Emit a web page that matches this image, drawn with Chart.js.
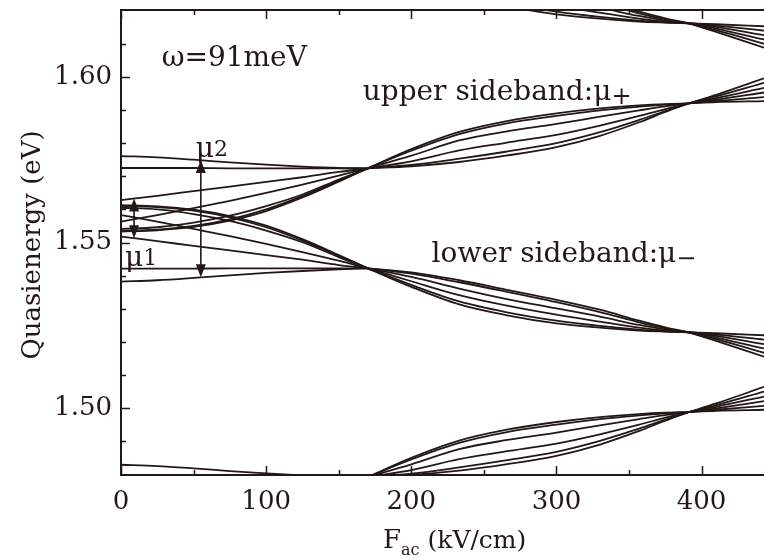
<!DOCTYPE html>
<html>
<head>
<meta charset="utf-8">
<script src="https://cdn.jsdelivr.net/npm/chart.js@4.4.0/dist/chart.umd.min.js"></script>
<style>
  html, body { margin: 0; padding: 0; background: #fff; }
  #chartContainer { width: 764px; height: 559px; position: relative; }
</style>
</head>
<body>
<div id="chartContainer"><canvas id="myChart"></canvas></div>
<script>
// field strength samples (kV/cm) for each stretch between the crossing points
const F_LEFT = [0, 25, 50, 75, 100, 125, 150, 170];
const F_LENS = [170, 200, 233, 265, 300, 330, 357, 375, 391];
const F_RIGHT = [391, 410, 443];

// quasienergies (eV)
const LEFT_UPPER = [
  [1.5761, 1.5757, 1.5750, 1.5742, 1.5735, 1.5729, 1.5725, 1.5724],
  [1.5725, 1.5725, 1.5725, 1.5724, 1.5724, 1.5724, 1.5724, 1.5724],
  [1.5628, 1.5641, 1.5655, 1.5669, 1.5683, 1.5697, 1.5713, 1.5724],
  [1.5563, 1.5583, 1.5604, 1.5626, 1.5650, 1.5675, 1.5702, 1.5724],
  [1.5541, 1.5546, 1.5560, 1.5581, 1.5610, 1.5645, 1.5690, 1.5724],
  [1.5535, 1.5539, 1.5550, 1.5570, 1.5600, 1.5640, 1.5686, 1.5724],
  [1.5533, 1.5537, 1.5547, 1.5566, 1.5595, 1.5636, 1.5684, 1.5724]
];
const LEFT_LOWER = [
  [1.5382, 1.5386, 1.5393, 1.5401, 1.5408, 1.5414, 1.5419, 1.5422],
  [1.5421, 1.5421, 1.5421, 1.5422, 1.5422, 1.5422, 1.5422, 1.5422],
  [1.5518, 1.5504, 1.5490, 1.5476, 1.5462, 1.5448, 1.5432, 1.5422],
  [1.5583, 1.5563, 1.5541, 1.5519, 1.5496, 1.5471, 1.5445, 1.5422],
  [1.5605, 1.5600, 1.5586, 1.5565, 1.5536, 1.5501, 1.5456, 1.5422],
  [1.5611, 1.5607, 1.5596, 1.5576, 1.5546, 1.5506, 1.5460, 1.5422],
  [1.5613, 1.5609, 1.5599, 1.5580, 1.5551, 1.5510, 1.5462, 1.5422]
];
const LEFT_BOTTOM = [
  [1.4829, 1.4825, 1.4818, 1.4810, 1.4803, 1.4797, 1.4793, 1.4792]
];

const LENS_UPPER = [
  [1.5724, 1.5782, 1.5834, 1.5866, 1.5890, 1.5905, 1.5914, 1.5918, 1.5920],
  [1.5724, 1.5777, 1.5827, 1.5859, 1.5882, 1.5899, 1.5910, 1.5916, 1.5920],
  [1.5724, 1.5762, 1.5808, 1.5835, 1.5858, 1.5880, 1.5899, 1.5911, 1.5920],
  [1.5724, 1.5745, 1.5778, 1.5801, 1.5825, 1.5853, 1.5882, 1.5903, 1.5920],
  [1.5724, 1.5734, 1.5753, 1.5774, 1.5800, 1.5833, 1.5870, 1.5897, 1.5920],
  [1.5724, 1.5730, 1.5743, 1.5762, 1.5788, 1.5822, 1.5863, 1.5894, 1.5920]
];
const LENS_LOWER = [
  [1.5422, 1.5410, 1.5386, 1.5358, 1.5327, 1.5297, 1.5264, 1.5244, 1.5229],
  [1.5422, 1.5406, 1.5380, 1.5352, 1.5320, 1.5290, 1.5259, 1.5241, 1.5229],
  [1.5422, 1.5396, 1.5361, 1.5330, 1.5301, 1.5276, 1.5251, 1.5237, 1.5229],
  [1.5422, 1.5383, 1.5341, 1.5310, 1.5282, 1.5261, 1.5243, 1.5234, 1.5229],
  [1.5422, 1.5372, 1.5322, 1.5290, 1.5264, 1.5248, 1.5237, 1.5232, 1.5229],
  [1.5422, 1.5366, 1.5313, 1.5281, 1.5256, 1.5243, 1.5234, 1.5231, 1.5229]
];
const LENS_TOP = [
  [1.6355, 1.6343, 1.6319, 1.6291, 1.6260, 1.6230, 1.6197, 1.6177, 1.6162],
  [1.6355, 1.6339, 1.6313, 1.6285, 1.6253, 1.6223, 1.6192, 1.6174, 1.6162],
  [1.6355, 1.6329, 1.6294, 1.6263, 1.6234, 1.6209, 1.6184, 1.6170, 1.6162],
  [1.6355, 1.6316, 1.6274, 1.6243, 1.6215, 1.6194, 1.6176, 1.6167, 1.6162],
  [1.6355, 1.6305, 1.6255, 1.6223, 1.6197, 1.6181, 1.6170, 1.6165, 1.6162],
  [1.6355, 1.6299, 1.6246, 1.6214, 1.6189, 1.6176, 1.6167, 1.6164, 1.6162]
];
const LENS_BOTTOM = [
  [1.4792, 1.4850, 1.4902, 1.4934, 1.4958, 1.4973, 1.4982, 1.4986, 1.4988],
  [1.4792, 1.4845, 1.4895, 1.4927, 1.4950, 1.4967, 1.4978, 1.4984, 1.4988],
  [1.4792, 1.4830, 1.4876, 1.4903, 1.4926, 1.4948, 1.4967, 1.4979, 1.4988],
  [1.4792, 1.4813, 1.4846, 1.4869, 1.4893, 1.4921, 1.4950, 1.4971, 1.4988],
  [1.4792, 1.4802, 1.4821, 1.4842, 1.4868, 1.4901, 1.4938, 1.4965, 1.4988],
  [1.4792, 1.4798, 1.4811, 1.4830, 1.4856, 1.4890, 1.4931, 1.4962, 1.4988]
];

const RIGHT_UPPER = [
  [1.5920, 1.5946, 1.5996],
  [1.5920, 1.5941, 1.5982],
  [1.5920, 1.5936, 1.5967],
  [1.5920, 1.5931, 1.5953],
  [1.5920, 1.5927, 1.5939],
  [1.5920, 1.5924, 1.5927]
];
const RIGHT_LOWER = [
  [1.5229, 1.5226, 1.5220],
  [1.5229, 1.5222, 1.5207],
  [1.5229, 1.5218, 1.5193],
  [1.5229, 1.5213, 1.5180],
  [1.5229, 1.5208, 1.5167],
  [1.5229, 1.5203, 1.5155]
];
const RIGHT_TOP = [
  [1.6162, 1.6159, 1.6153],
  [1.6162, 1.6155, 1.6140],
  [1.6162, 1.6151, 1.6126],
  [1.6162, 1.6146, 1.6113],
  [1.6162, 1.6141, 1.6100],
  [1.6162, 1.6136, 1.6088]
];
const RIGHT_BOTTOM = [
  [1.4988, 1.5014, 1.5064],
  [1.4988, 1.5009, 1.5050],
  [1.4988, 1.5004, 1.5035],
  [1.4988, 1.4999, 1.5021],
  [1.4988, 1.4995, 1.5007],
  [1.4988, 1.4992, 1.4995]
];

const X_TICKS = [0, 100, 200, 300, 400];
const Y_TICKS = [1.50, 1.55, 1.60];

const INK = '#231815';
const SERIF = '"DejaVu Serif", serif';

let myChart = null;

function segment(xs, ys) {
  return {
    data: xs.map((x, i) => ({ x: x, y: ys[i] })),
    showLine: true,
    borderColor: INK,
    borderWidth: 1.8,
    pointRadius: 0,
    pointHoverRadius: 0,
    fill: false,
    cubicInterpolationMode: 'monotone'
  };
}

function buildDatasets() {
  const groups = [
    [F_LEFT, LEFT_UPPER], [F_LEFT, LEFT_LOWER], [F_LEFT, LEFT_BOTTOM],
    [F_LENS, LENS_UPPER], [F_LENS, LENS_LOWER], [F_LENS, LENS_TOP], [F_LENS, LENS_BOTTOM],
    [F_RIGHT, RIGHT_UPPER], [F_RIGHT, RIGHT_LOWER], [F_RIGHT, RIGHT_TOP], [F_RIGHT, RIGHT_BOTTOM]
  ];
  let datasets = [];
  groups.forEach(([xs, lines]) => {
    lines.forEach(ys => datasets.push(segment(xs, ys)));
  });
  return datasets;
}

// labels in the plot, placed in data coordinates
const NOTES = [
  { x: 28, y: 1.6033, parts: [['ω=91meV', 28, 0]] },
  { x: 166.5, y: 1.5931, parts: [['upper sideband:', 28, 0], ['μ', 28, 0], ['+', 24, 4]] },
  { x: 214, y: 1.5441, parts: [['lower sideband:', 28, 0], ['μ', 28, 0], ['−', 24, 4]] },
  { x: 51.5, y: 1.5758, parts: [['μ', 28, 0], ['2', 22, -1]] },
  { x: 2.8, y: 1.5429, parts: [['μ', 28, 0], ['1', 22, -1]] }
];
const ARROWS = [
  { x: 9, from: 1.5633, to: 1.5513 },
  { x: 55, from: 1.5749, to: 1.5395 }
];

function drawParts(ctx, px, py, parts) {
  let cx = px;
  parts.forEach(([text, size, dy]) => {
    ctx.font = size + 'px ' + SERIF;
    ctx.fillText(text, cx, py + dy);
    cx += ctx.measureText(text).width;
  });
}

function drawArrowHead(ctx, x, y, dir) {
  ctx.beginPath();
  ctx.moveTo(x, y);
  ctx.lineTo(x - 5, y + dir * 13);
  ctx.lineTo(x + 5, y + dir * 13);
  ctx.closePath();
  ctx.fill();
}

const decorPlugin = {
  id: 'decor',
  afterDraw(chart) {
    const ctx = chart.ctx;
    const xs = chart.scales.x;
    const ys = chart.scales.y;
    const area = chart.chartArea;
    ctx.save();
    ctx.strokeStyle = INK;
    ctx.fillStyle = INK;

    // top frame line
    ctx.lineWidth = 2;
    ctx.beginPath();
    ctx.moveTo(area.left - 1, area.top);
    ctx.lineTo(area.right, area.top);
    ctx.stroke();

    // inward ticks
    ctx.lineWidth = 1.5;
    for (let v = 0; v <= 443; v += 50) {
      const px = Math.round(xs.getPixelForValue(v)) + 0.5;
      const len = v % 100 === 0 ? 9 : 5;
      ctx.beginPath();
      ctx.moveTo(px, area.bottom);
      ctx.lineTo(px, area.bottom - len);
      ctx.moveTo(px, area.top);
      ctx.lineTo(px, area.top + len);
      ctx.stroke();
    }
    for (let k = 148; k <= 162; k++) {
      const v = k / 100;
      const py = Math.round(ys.getPixelForValue(v)) + 0.5;
      if (py < area.top + 2 || py > area.bottom - 2) continue;
      const len = k % 5 === 0 ? 9 : 5;
      ctx.beginPath();
      ctx.moveTo(area.left, py);
      ctx.lineTo(area.left + len, py);
      ctx.stroke();
    }

    // double arrows for mu1 and mu2
    ctx.lineWidth = 1.6;
    ARROWS.forEach(a => {
      const px = xs.getPixelForValue(a.x);
      const y1 = ys.getPixelForValue(a.from);
      const y2 = ys.getPixelForValue(a.to);
      ctx.beginPath();
      ctx.moveTo(px, y1 + 10);
      ctx.lineTo(px, y2 - 10);
      ctx.stroke();
      drawArrowHead(ctx, px, y1, 1);
      drawArrowHead(ctx, px, y2, -1);
    });

    // text labels
    ctx.textAlign = 'left';
    ctx.textBaseline = 'alphabetic';
    NOTES.forEach(n => {
      drawParts(ctx, xs.getPixelForValue(n.x), ys.getPixelForValue(n.y), n.parts);
    });

    // x axis title with subscript
    drawParts(ctx, 383, 548, [['F', 26, 0], ['ac', 16, 7], [' (kV/cm)', 25, 0]]);

    // y axis title, rotated
    ctx.save();
    ctx.translate(40, 245);
    ctx.rotate(-Math.PI / 2);
    ctx.textAlign = 'center';
    ctx.font = '26px ' + SERIF;
    ctx.fillText('Quasienergy (eV)', 0, 0);
    ctx.restore();

    ctx.restore();
  }
};

function createChart() {
  if (myChart !== null) {
    myChart.destroy();
  }
  const ctx = document.getElementById('myChart').getContext('2d');
  myChart = new Chart(ctx, {
    type: 'scatter',
    data: { datasets: buildDatasets() },
    plugins: [decorPlugin],
    options: {
      animation: false,
      responsive: true,
      maintainAspectRatio: false,
      devicePixelRatio: 1,
      events: [],
      layout: { padding: { top: 10, right: 0, bottom: 0, left: 0 } },
      plugins: {
        legend: { display: false },
        tooltip: { enabled: false }
      },
      scales: {
        x: {
          type: 'linear',
          min: 0,
          max: 443,
          bounds: 'data',
          afterBuildTicks: s => { s.ticks = X_TICKS.map(v => ({ value: v })); },
          afterFit: s => { s.height = 84; s.paddingLeft = 0; s.paddingRight = 0; },
          grid: { display: false, drawTicks: false },
          border: { display: true, color: INK, width: 2 },
          ticks: {
            color: INK,
            padding: 12,
            maxRotation: 0,
            autoSkip: false,
            font: { family: SERIF, size: 26 }
          }
        },
        y: {
          type: 'linear',
          min: 1.4798,
          max: 1.6202,
          bounds: 'data',
          afterBuildTicks: s => { s.ticks = Y_TICKS.map(v => ({ value: v })); },
          afterFit: s => { s.width = 121; s.paddingTop = 0; s.paddingBottom = 0; },
          grid: { display: false, drawTicks: false },
          border: { display: true, color: INK, width: 2 },
          ticks: {
            color: INK,
            padding: 9,
            autoSkip: false,
            callback: v => Number(v).toFixed(2),
            font: { family: SERIF, size: 26 }
          }
        }
      }
    }
  });
}

createChart();
</script>
</body>
</html>
